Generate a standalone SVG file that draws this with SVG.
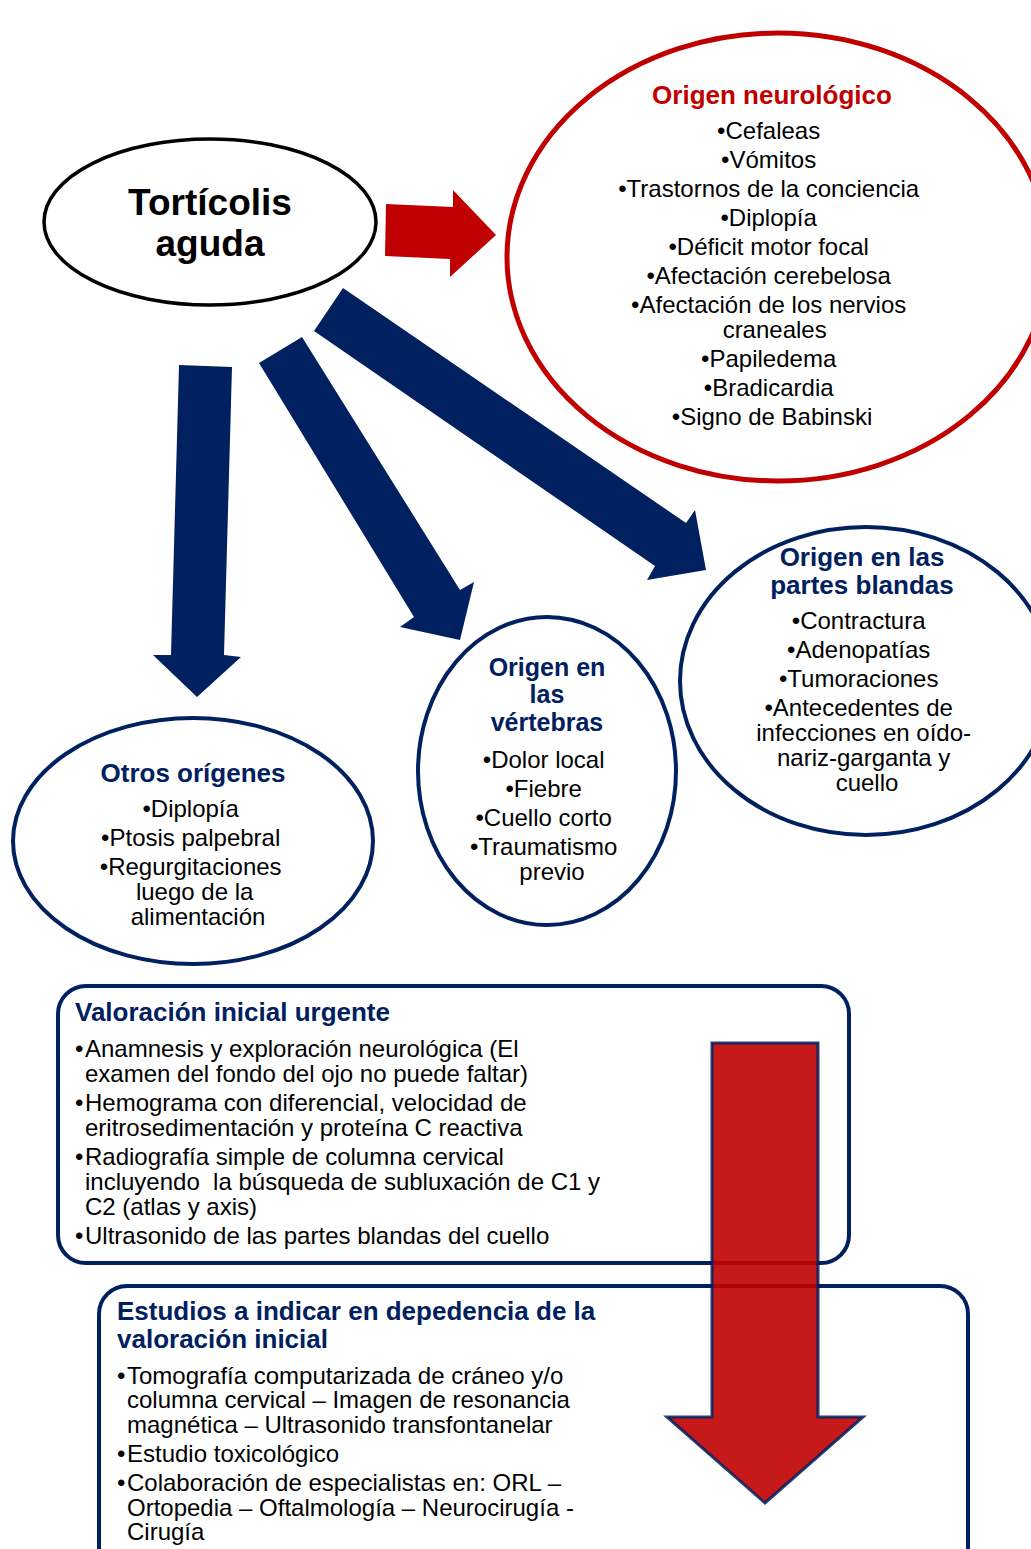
<svg xmlns="http://www.w3.org/2000/svg" width="1031" height="1549" viewBox="0 0 1031 1549">
<style>
text{font-family:"Liberation Sans",Arial,sans-serif;}
.t{font-size:24px;fill:#000;}
.c{text-anchor:middle;}
.hb{font-size:26px;font-weight:bold;fill:#002060;}
.hr{font-size:26px;font-weight:bold;fill:#C00000;}
.nv{fill:#fff;stroke:#002060;stroke-width:4;}
.ba{fill:#002060;}
</style>
<rect width="1031" height="1549" fill="#fff"/>
<g id="connectors">
<polygon points="386,204 453,207 453,190 496,235 450,277 450,259 385,256" fill="#C00000"/>
<polygon class="ba" points="179,365 232,367 224,655 241,657 197,697 153,655 171,655"/>
<polygon class="ba" points="259,363 302,337 460,590 474,582 460,640 400,627 414,617"/>
<polygon class="ba" points="314,331 343,288 686,523 695,510 706,570 647,580 655,566"/>
</g>
<g id="tortícolis">
<ellipse cx="210" cy="222" rx="166" ry="83" fill="#fff" stroke="#000" stroke-width="3.5"/>
<text x="210" y="215" class="c" style="font-size:37px;font-weight:bold">Tortícolis</text>
<text x="210" y="256" class="c" style="font-size:37px;font-weight:bold">aguda</text>
</g>
<g id="neurologico">
<ellipse cx="778" cy="257" rx="271" ry="224" fill="none" stroke="#C00000" stroke-width="5"/>
<text x="772" y="104" class="hr c">Origen neurológico</text>
<text class="t c">
<tspan x="772" y="139">•Cefaleas</tspan>
<tspan x="772" y="168">•Vómitos</tspan>
<tspan x="772" y="197">•Trastornos de la conciencia</tspan>
<tspan x="772" y="226">•Diplopía</tspan>
<tspan x="772" y="255">•Déficit motor focal</tspan>
<tspan x="772" y="284">•Afectación cerebelosa</tspan>
<tspan x="772" y="313">•Afectación de los nervios</tspan>
<tspan x="778" y="338">craneales</tspan>
<tspan x="772" y="367">•Papiledema</tspan>
<tspan x="772" y="396">•Bradicardia</tspan>
<tspan x="772" y="425">•Signo de Babinski</tspan>
</text>
</g>
<g id="partes-blandas">
<ellipse class="nv" cx="866" cy="681" rx="186" ry="154"/>
<text class="hb c"><tspan x="862" y="566">Origen en las</tspan><tspan x="862" y="594">partes blandas</tspan></text>
<text class="t c">
<tspan x="862" y="629">•Contractura</tspan>
<tspan x="862" y="658">•Adenopatías</tspan>
<tspan x="862" y="687">•Tumoraciones</tspan>
<tspan x="862" y="716">•Antecedentes de</tspan>
<tspan x="867" y="741">infecciones en oído-</tspan>
<tspan x="867" y="766">nariz-garganta y</tspan>
<tspan x="867" y="791">cuello</tspan>
</text>
</g>
<g id="vertebras">
<ellipse class="nv" cx="547" cy="771" rx="129" ry="154"/>
<text class="hb c" style="font-size:25px"><tspan x="547" y="676">Origen en</tspan><tspan x="547" y="703">las</tspan><tspan x="547" y="731">vértebras</tspan></text>
<text class="t c">
<tspan x="547" y="768">•Dolor local</tspan>
<tspan x="547" y="797">•Fiebre</tspan>
<tspan x="547" y="826">•Cuello corto</tspan>
<tspan x="547" y="855">•Traumatismo</tspan>
<tspan x="552" y="880">previo</tspan>
</text>
</g>
<g id="otros">
<ellipse class="nv" cx="193" cy="841" rx="180" ry="123"/>
<text x="193" y="782" class="hb c">Otros orígenes</text>
<text class="t c">
<tspan x="194" y="817">•Diplopía</tspan>
<tspan x="194" y="846">•Ptosis palpebral</tspan>
<tspan x="194" y="875">•Regurgitaciones</tspan>
<tspan x="198" y="900">luego de la</tspan>
<tspan x="198" y="925">alimentación</tspan>
</text>
</g>
<g id="valoracion">
<rect class="nv" x="58" y="986" width="791" height="277" rx="28"/>
<text x="75" y="1021" class="hb">Valoración inicial urgente</text>
<text class="t">
<tspan x="75" y="1057">•</tspan><tspan x="85" y="1057">Anamnesis y exploración neurológica (El</tspan>
<tspan x="85" y="1082">examen del fondo del ojo no puede faltar)</tspan>
<tspan x="75" y="1111">•</tspan><tspan x="85" y="1111">Hemograma con diferencial, velocidad de</tspan>
<tspan x="85" y="1136">eritrosedimentación y proteína C reactiva</tspan>
<tspan x="75" y="1165">•</tspan><tspan x="85" y="1165">Radiografía simple de columna cervical</tspan>
<tspan x="85" y="1190">incluyendo&#160; la búsqueda de subluxación de C1 y</tspan>
<tspan x="85" y="1215">C2 (atlas y axis)</tspan>
<tspan x="75" y="1244">•</tspan><tspan x="85" y="1244">Ultrasonido de las partes blandas del cuello</tspan>
</text>
</g>
<g id="estudios">
<rect class="nv" x="99" y="1286" width="869" height="300" rx="28"/>
<text class="hb"><tspan x="117" y="1320">Estudios a indicar en depedencia de la</tspan><tspan x="117" y="1348">valoración inicial</tspan></text>
<text class="t">
<tspan x="117" y="1384">•</tspan><tspan x="127" y="1384">Tomografía computarizada de cráneo y/o</tspan>
<tspan x="127" y="1408">columna cervical – Imagen de resonancia</tspan>
<tspan x="127" y="1433">magnética – Ultrasonido transfontanelar</tspan>
<tspan x="117" y="1462">•</tspan><tspan x="127" y="1462">Estudio toxicológico</tspan>
<tspan x="117" y="1491">•</tspan><tspan x="127" y="1491">Colaboración de especialistas en: ORL –</tspan>
<tspan x="127" y="1516">Ortopedia – Oftalmología – Neurocirugía -</tspan>
<tspan x="127" y="1540">Cirugía</tspan>
</text>
</g>
<g id="flecha-roja">
<polygon points="712,1043 818,1043 818,1417 863,1417 765,1503 667,1417 712,1417" fill="#C00000" fill-opacity="0.9" stroke="#002060" stroke-opacity="0.85" stroke-width="3" stroke-linejoin="miter"/>
</g>
</svg>
